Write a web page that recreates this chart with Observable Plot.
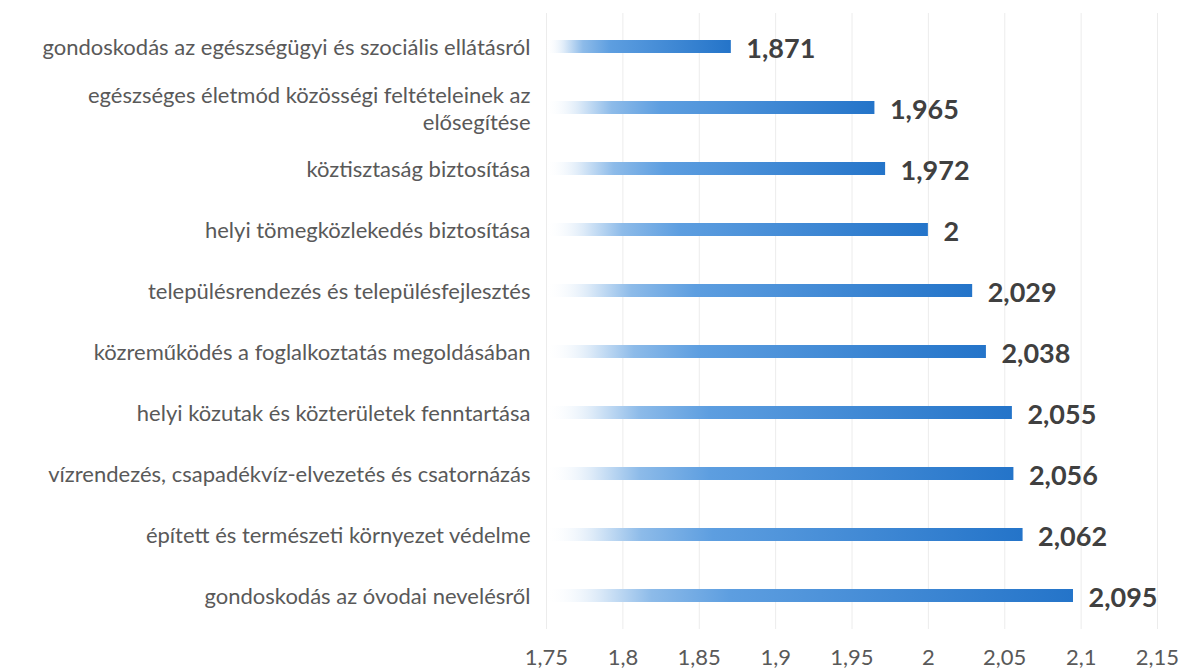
<!DOCTYPE html>
<html>
<head>
<meta charset="utf-8">
<script src="https://cdn.jsdelivr.net/npm/d3@7"></script>
<script src="https://cdn.jsdelivr.net/npm/@observablehq/plot@0.6"></script>
<style>
  html, body { margin: 0; padding: 0; background: #fff; }
  #chart svg { display: block; }
</style>
</head>
<body>
<div id="chart"></div>
<script>
const categories = [
  "gondoskodás az egészségügyi és szociális ellátásról",
  "egészséges életmód közösségi feltételeinek az\nelősegítése",
  "köztisztaság biztosítása",
  "helyi tömegközlekedés biztosítása",
  "településrendezés és településfejlesztés",
  "közreműködés a foglalkoztatás megoldásában",
  "helyi közutak és közterületek fenntartása",
  "vízrendezés, csapadékvíz-elvezetés és csatornázás",
  "épített és természeti környezet védelme",
  "gondoskodás az óvodai nevelésről"
];
const values = [1.871, 1.965, 1.972, 2, 2.029, 2.038, 2.055, 2.056, 2.062, 2.095];
const xTicks = [1.75, 1.8, 1.85, 1.9, 1.95, 2, 2.05, 2.1, 2.15];

const data = categories.map((c, i) => ({category: c, value: values[i]}));
const fmt = d => String(d).replace(".", ",");
const xMin = xTicks[0];

const chart = Plot.plot({
  width: 1183,
  height: 670,
  marginLeft: 546,
  marginRight: 26,
  marginTop: 13,
  marginBottom: 41,
  style: {fontFamily: "Lato, 'Open Sans', sans-serif", background: "#fff"},
  x: {domain: [xTicks[0], xTicks[xTicks.length - 1]]},
  y: {domain: categories, paddingInner: 0.79, paddingOuter: 0.4},
  marks: [
    Plot.gridX(xTicks, {stroke: "#ececec", strokeOpacity: 1}),
    Plot.barX(data, {x1: () => xMin, x2: "value", y: "category", fill: "url(#barGrad)"}),
    Plot.text(data, {x: "value", y: "category", text: d => fmt(d.value), textAnchor: "start", dx: 15, dy: 2, fontSize: 27, fontWeight: "bold", fill: "#404040"}),
    Plot.axisY({tickSize: 0, tickPadding: 16, fontSize: 22, lineHeight: 1.2, fill: "#595959", textAnchor: "end", label: null}),
    Plot.axisX(xTicks, {tickSize: 0, tickPadding: 20, fontSize: 22, fill: "#595959", tickFormat: fmt, label: null})
  ]
});

const ns = "http://www.w3.org/2000/svg";
const defs = document.createElementNS(ns, "defs");
const grad = document.createElementNS(ns, "linearGradient");
grad.setAttribute("id", "barGrad");
grad.setAttribute("x1", "0"); grad.setAttribute("x2", "1");
grad.setAttribute("y1", "0"); grad.setAttribute("y2", "0");
[[0, "#ffffff", 0], [0.1, "#dceaf8", 1], [0.2, "#8dbbe9", 1], [0.35, "#5d9ee0", 1], [1, "#2474c9", 1]].forEach(([o, c, a]) => {
  const s = document.createElementNS(ns, "stop");
  s.setAttribute("offset", o);
  s.setAttribute("stop-color", c);
  s.setAttribute("stop-opacity", a);
  grad.appendChild(s);
});
defs.appendChild(grad);
chart.insertBefore(defs, chart.firstChild);

document.getElementById("chart").appendChild(chart);
</script>
</body>
</html>
